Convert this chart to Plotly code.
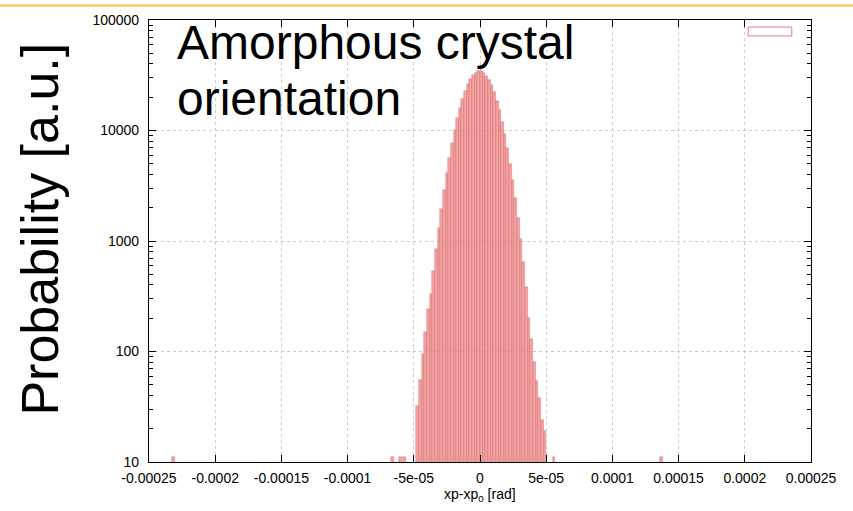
import plotly.graph_objects as go

# bin centres (rad) and counts of the main distribution
bin_centers = [-4.7e-05, -4.5e-05, -4.3e-05, -4.1e-05, -3.9e-05, -3.7e-05, -3.5e-05, -3.3e-05,
               -3.1e-05, -2.9e-05, -2.7e-05, -2.5e-05, -2.3e-05, -2.1e-05, -1.9e-05, -1.7e-05,
               -1.5e-05, -1.3e-05, -1.1e-05, -9e-06, -7e-06, -5e-06, -3e-06, -1e-06,
               1e-06, 3e-06, 5e-06, 7e-06, 9e-06, 1.1e-05, 1.3e-05, 1.5e-05,
               1.7e-05, 1.9e-05, 2.1e-05, 2.3e-05, 2.5e-05, 2.7e-05, 2.9e-05, 3.1e-05,
               3.3e-05, 3.5e-05, 3.7e-05, 3.9e-05, 4.1e-05, 4.3e-05, 4.5e-05, 4.7e-05, 4.9e-05]
bin_counts = [32, 55, 95, 150, 245, 330, 530, 840,
              1300, 1960, 2870, 4090, 5680, 7660, 10070, 12860,
              16000, 19360, 22800, 26100, 29150, 31600, 33400, 34500,
              34300, 33300, 31450, 28800, 25650, 22200, 18600, 15200,
              12000, 9270, 6900, 5000, 3550, 2430, 1610, 1045,
              650, 380, 200, 130, 80, 54, 38, 24, 19]
# isolated single entries in the tails
tail_centers = [-2.316e-04, -6.6e-05, -6.0e-05, -5.7e-05, 5.6e-05, 1.372e-04]
tail_counts = [11, 11, 11, 11, 11, 11]
bin_width = 2e-06

x_tickvals = [-0.00025, -0.0002, -0.00015, -0.0001, -5e-05, 0, 5e-05, 0.0001, 0.00015, 0.0002, 0.00025]
x_ticktext = ["-0.00025", "-0.0002", "-0.00015", "-0.0001", "-5e-05", "0", "5e-05",
              "0.0001", "0.00015", "0.0002", "0.00025"]
y_tickvals = [10, 100, 1000, 10000, 100000]
y_ticktext = ["10", "100", "1000", "10000", "100000"]
y_minorvals = [m * d for d in (10, 100, 1000, 10000) for m in range(2, 10)]

FONT = "Liberation Sans, Arial, sans-serif"
fill = "rgba(240,138,138,0.8)"
edge = "rgba(200,95,95,0.55)"

fig = go.Figure()
fig.add_trace(go.Bar(x=bin_centers + tail_centers, y=bin_counts + tail_counts,
                     width=bin_width, marker=dict(color=fill, line=dict(color=edge, width=0.6)),
                     showlegend=False))

fig.update_layout(
    width=853, height=511,
    margin=dict(l=149, r=42, t=15, b=49),
    paper_bgcolor="white", plot_bgcolor="white",
    font=dict(family=FONT, color="black", size=14),
    bargap=0,
    showlegend=False,
)
fig.update_xaxes(
    range=[-0.00025, 0.00025], tickvals=x_tickvals, ticktext=x_ticktext,
    ticks="inside", ticklen=7, tickcolor="black", mirror="allticks",
    showline=True, linecolor="black", linewidth=1.2,
    showgrid=True, gridcolor="#cccccc", griddash="dot", gridwidth=1,
    zeroline=False, tickfont=dict(size=14), ticklabelstandoff=3,
)
fig.update_yaxes(
    type="log", range=[1, 5], tickvals=y_tickvals, ticktext=y_ticktext,
    ticks="inside", ticklen=7, tickcolor="black", mirror="allticks",
    showline=True, linecolor="black", linewidth=1.2,
    showgrid=True, gridcolor="#cccccc", griddash="dot", gridwidth=1,
    zeroline=False, tickfont=dict(size=14), ticklabelstandoff=6,
    minor=dict(tickvals=y_minorvals, ticks="inside", ticklen=4, tickcolor="black", showgrid=False),
)

fig.add_annotation(text="xp-xp<sub>0</sub> [rad]", xref="paper", yref="paper",
                   x=0.5, y=-0.049, showarrow=False, xanchor="center", yanchor="top",
                   font=dict(size=14, family=FONT))
fig.add_annotation(text="Probability [a.u.]", xref="paper", yref="paper",
                   x=-0.166, y=0.526, textangle=-90, showarrow=False,
                   xanchor="center", yanchor="middle", font=dict(size=52, family=FONT))
fig.add_annotation(text="Amorphous crystal", xref="paper", yref="paper",
                   x=0.04, y=1.014, showarrow=False, align="left",
                   xanchor="left", yanchor="top", font=dict(size=48, family=FONT))
fig.add_annotation(text="orientation", xref="paper", yref="paper",
                   x=0.04, y=0.887, showarrow=False, align="left",
                   xanchor="left", yanchor="top", font=dict(size=48, family=FONT))

# empty key box (gnuplot legend sample) and slide rule at the very top
fig.add_shape(type="rect", xref="paper", yref="paper", x0=0.905, x1=0.971, y0=0.964, y1=0.984,
              line=dict(color="rgba(220,110,110,0.9)", width=1), fillcolor="rgba(0,0,0,0)")
fig.add_shape(type="line", xref="paper", yref="paper", x0=-0.226, x1=1.065, y0=1.033, y1=1.033,
              line=dict(color="#F4C150", width=2))

fig.write_html("out.html")
